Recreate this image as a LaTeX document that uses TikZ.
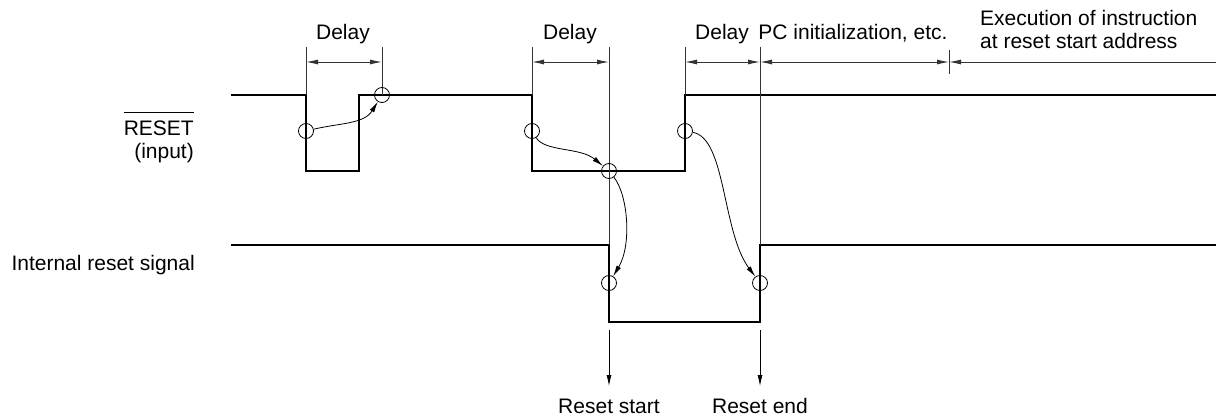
\documentclass[tikz,border=0pt]{standalone}
\usepackage{fontspec}
\setmainfont{Liberation Sans}
\usetikzlibrary{arrows.meta}
\begin{document}
\begin{tikzpicture}[x=1pt,y=-1pt,
  sig/.style={line width=2.6pt, line join=miter},
  thinline/.style={line width=0.9pt, black!80},
  circ/.style={circle, draw, line width=0.8pt, minimum size=15pt, inner sep=0pt},
  arr/.style={line width=0.8pt, -{Latex[length=11pt,width=5pt]}},
  dimline/.style={line width=0.9pt, black!80, {Latex[length=12pt,width=5pt]}-{Latex[length=12pt,width=5pt]}},
  lefthead/.style={line width=0.9pt, black!80, {Latex[length=12pt,width=5pt]}-},
  lbl/.style={font=\fontsize{21}{23}\selectfont, inner sep=0pt}
]
\useasboundingbox (0,0) rectangle (1216,420);

% labels
\node[lbl, anchor=base] (d1) at (343,40) {Delay};
\node[lbl, anchor=base] (d2) at (570,40) {Delay};
\node[lbl, anchor=base] (d3) at (722,40) {Delay};
\node[lbl, anchor=base] (pc) at (853,40) {PC initialization, etc.};
\node[lbl, anchor=base west] (ex1) at (980,26) {Execution of instruction};
\node[lbl, anchor=base west] (ex2) at (980,49) {at reset start address};
\node[lbl, anchor=base east] (reset) at (194,135) {RESET};
\draw[line width=0.9pt] ([yshift=8pt]reset.north west) -- ([yshift=8pt]reset.north east);
\node[lbl, anchor=base east] (inp) at (194,158) {(input)};
\node[lbl, anchor=base east] (irs) at (195,270) {Internal reset signal};
\node[lbl, anchor=base] (rs) at (609,413) {Reset start};
\node[lbl, anchor=base] (re) at (760,413) {Reset end};

% signals
\draw[sig] (231,95) -- (306,95) -- (306,171) -- (359,171) -- (359,95) -- (532,95)
  -- (532,171) -- (685,171) -- (685,95) -- (1216,95);
\draw[sig] (231,245) -- (609,245) -- (609,322) -- (760,322) -- (760,245) -- (1216,245);

% reference lines
\coordinate (t1) at (306,47);
\coordinate (t2) at (382,47);
\coordinate (t3) at (532,47);
\coordinate (t4) at (609,47);
\coordinate (t5) at (685,47);
\coordinate (t6) at (760,47);
\draw[thinline] (t1) -- (306,95);
\draw[thinline] (t2) -- (382,95);
\draw[thinline] (t3) -- (532,95);
\draw[thinline] (t4) -- (609,245);
\draw[thinline] (t5) -- (685,95);
\draw[thinline] (t6) -- (760,245);
\draw[thinline] (949,50) -- (949,74);

% dimension arrows
\draw[dimline] (306,62) -- (382,62);
\draw[dimline] (532,62) -- (609,62);
\draw[dimline] (685,62) -- (760,62);
\draw[dimline] (760,62) -- (949,62);
\draw[lefthead] (949,62) -- (1216,62);

% circles
\node[circ] (c1) at (306,131) {};
\node[circ] (c2) at (382,95) {};
\node[circ] (c3) at (532,131) {};
\node[circ] (c4) at (609,171) {};
\node[circ] (c5) at (685,131) {};
\node[circ] (c6) at (609,283) {};
\node[circ] (c7) at (760,283) {};

% causal arrows
\draw[arr] (c1) .. controls (340,123) and (364,124) .. (c2);
\draw[arr] (c3) .. controls (545,152) and (580,147) .. (c4);
\draw[arr] (c4) .. controls (628,195) and (632,245) .. (c6);
\draw[arr] (c5) .. controls (726,138) and (722,232) .. (c7);

% bottom arrows
\coordinate (b1) at (609,330);
\coordinate (b2) at (760,330);
\draw[arr] (b1) -- (rs.north |- 0,386);
\draw[arr] (b2) -- (re.north |- 0,386);
\end{tikzpicture}
\end{document}
